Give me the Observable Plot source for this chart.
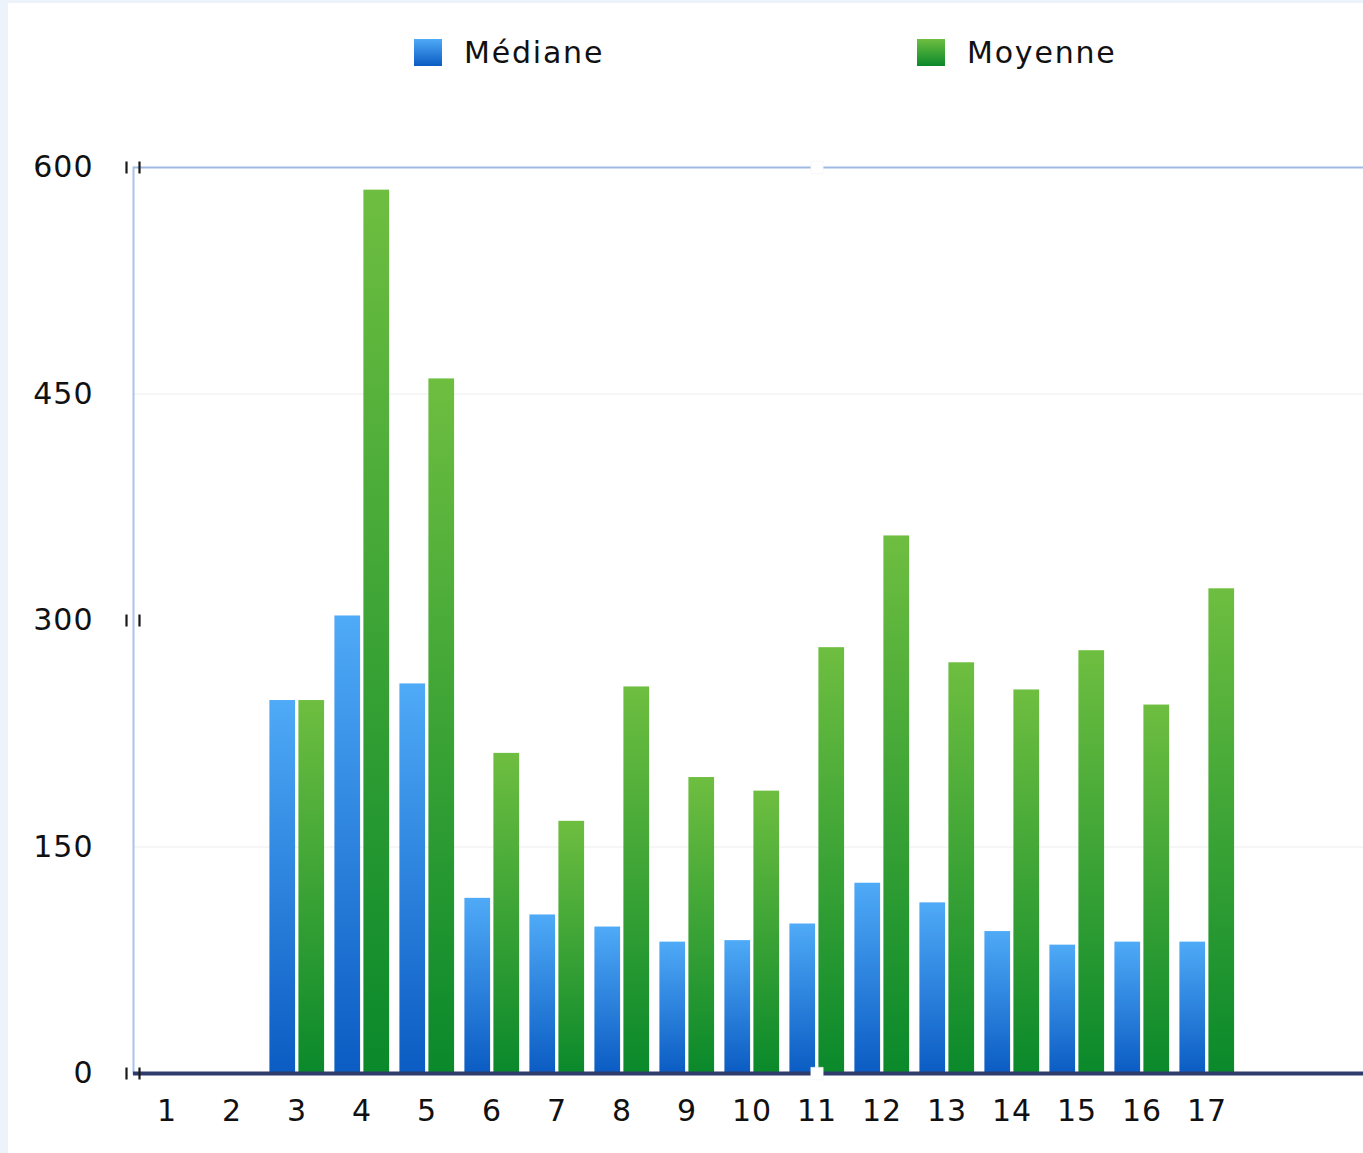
<!DOCTYPE html>
<html>
<head>
<meta charset="utf-8">
<script src="https://cdn.jsdelivr.net/npm/d3@7"></script>
<script src="https://cdn.jsdelivr.net/npm/@observablehq/plot@0.6"></script>
<style>
  html, body { margin: 0; padding: 0; background: #edf3fb; }
  #panel { position: absolute; left: 8px; top: 3px; width: 1355px; height: 1150px; background: #fff; }
  #wrap { position: absolute; left: 0; top: 0; width: 1363px; height: 1153px; }
  #legend { position: relative; height: 100px; font-family: "DejaVu Sans", sans-serif; font-size: 30px; color: #111; letter-spacing: 1.8px; }
  .item { position: absolute; top: 34px; height: 36px; display: flex; align-items: center; }
  .sw { width: 28px; height: 27px; margin-right: 22px; }
</style>
</head>
<body>
<div id="panel"></div>
<div id="wrap">
  <div id="legend">
    <div class="item" style="left:414px"><svg class="sw" viewBox="0 0 28 27"><rect width="28" height="27" fill="url(#gBlue)"/></svg><span>Médiane</span></div>
    <div class="item" style="left:917px"><svg class="sw" viewBox="0 0 28 27"><rect width="28" height="27" fill="url(#gGreen)"/></svg><span>Moyenne</span></div>
  </div>
  <div id="chart"></div>
</div>
<script>
const categories = ["1","2","3","4","5","6","7","8","9","10","11","12","13","14","15","16","17"];
const medianes = [null, null, 247, 303, 258, 116, 105, 97, 87, 88, 99, 126, 113, 94, 85, 87, 87];
const moyennes = [null, null, 247, 585, 460, 212, 167, 256, 196, 187, 282, 356, 272, 254, 280, 244, 321];
const yTicks = [0, 150, 300, 450, 600];
const markedTicks = [0, 300, 600];

const rows = categories.map((c, i) => ({cat: c, mediane: medianes[i], moyenne: moyennes[i]}));
const medRows = rows.filter(d => d.mediane != null);
const moyRows = rows.filter(d => d.moyenne != null);

const twoBars = {
  draw(ctx) {
    ctx.moveTo(-7, -6); ctx.lineTo(-7, 6);
    ctx.moveTo(6, -6); ctx.lineTo(6, 6);
  }
};

const chart = Plot.plot({
  width: 1363,
  height: 1053,
  marginTop: 67,
  marginBottom: 80,
  marginLeft: 133,
  marginRight: 0,
  style: {background: "transparent", fontFamily: "DejaVu Sans, sans-serif", fontSize: "30px", color: "#111", letterSpacing: "1px"},
  x: {type: "band", domain: categories, range: [130, 1243], padding: 0},
  y: {domain: [0, 600]},
  marks: [
    Plot.ruleY([150, 450], {stroke: "#f3f3f3", strokeWidth: 1.5}),
    Plot.ruleY([600], {stroke: "#9fb9e3", strokeWidth: 2}),
    Plot.frame({anchor: "left", stroke: "#a9c3ea", strokeWidth: 2}),
    Plot.barY(medRows, {x: "cat", y: "mediane", fill: "url(#gBlue)", insetLeft: 5.4, insetRight: 33.9}),
    Plot.barY(moyRows, {x: "cat", y: "moyenne", fill: "url(#gGreen)", insetLeft: 34.4, insetRight: 4.9}),
    Plot.ruleY([0], {stroke: "#2f3b6b", strokeWidth: 4}),
    Plot.dot(markedTicks, {y: d => d, frameAnchor: "left", symbol: twoBars, r: 6, stroke: "#1a1a1a", strokeWidth: 2.2, fill: "none"}),
    Plot.dot([0, 600], {x: () => "11", y: d => d, symbol: "square", r: 7, fill: "#fff", stroke: "#eee", strokeWidth: 0.5}),
    Plot.axisX({tickSize: 0, tickPadding: 26, fontSize: 30, fill: "#111", label: null}),
    Plot.axisY({ticks: yTicks, tickSize: 0, tickPadding: 40, fontSize: 30, fill: "#111", label: null})
  ]
});

document.getElementById("chart").appendChild(chart);

// gradients (per-bar, top lighter, bottom darker)
const defsSvg = d3.select("body").append("svg").attr("width", 0).attr("height", 0).style("position", "absolute");
const defs = defsSvg.append("defs");
function grad(id, top, bottom) {
  const g = defs.append("linearGradient").attr("id", id).attr("x1", 0).attr("y1", 0).attr("x2", 0).attr("y2", 1);
  g.append("stop").attr("offset", "0%").attr("stop-color", top);
  g.append("stop").attr("offset", "100%").attr("stop-color", bottom);
}
grad("gBlue", "#4faaf7", "#0b5cc3");
grad("gGreen", "#6ebe40", "#0a892b");
</script>
</body>
</html>
